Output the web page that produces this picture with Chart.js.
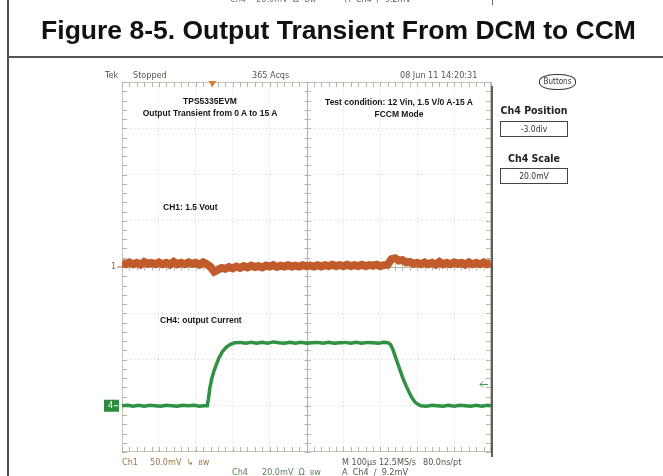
<!DOCTYPE html>
<html>
<head>
<meta charset="utf-8">
<script src="https://cdn.jsdelivr.net/npm/chart.js@4.4.0/dist/chart.umd.min.js"></script>
<style>
  html, body { margin: 0; padding: 0; background: #fff; width: 663px; height: 476px; overflow: hidden; }
  #wrap { position: relative; width: 663px; height: 476px; }
  #scope { position: absolute; left: 0; top: 0; }
  .t { position: absolute; white-space: nowrap; }
  .sc { font-family: "Liberation Sans Narrow", "DejaVu Sans Condensed", sans-serif; font-size: 9px; line-height: 10px; color: #5b5449; }
  .note { font-family: "Liberation Sans", Arial, sans-serif; font-weight: bold; font-size: 8.5px; line-height: 12px; color: #161616; text-align: center; }
  .panel { font-family: "Liberation Sans Narrow", "DejaVu Sans Condensed", sans-serif; font-weight: bold; font-size: 10.5px; color: #222; text-align: center; width: 68px; }
  .box { position: absolute; border: 1px solid #444; width: 66px; height: 14px; font-family: "Liberation Sans Narrow", "DejaVu Sans Condensed", sans-serif; font-size: 8.5px; line-height: 14px; text-align: center; color: #333; }
</style>
</head>
<body>
<div id="wrap">
  <canvas id="scope" width="663" height="476"></canvas>

  <!-- page frame -->
  <div style="position:absolute;left:7px;top:0;width:2px;height:476px;background:#4a4a4a"></div>
  <div style="position:absolute;left:8px;top:56px;width:655px;height:2px;background:#555"></div>
  <div style="position:absolute;left:492px;top:0;width:1px;height:5px;background:#666"></div>

  <!-- cut tail of the previous screenshot -->
  <div class="t sc" style="left:230px;top:-6px;color:#6a7a6a">Ch4&nbsp;&nbsp;&nbsp;&nbsp;20.0mV&nbsp;&nbsp;Ω&nbsp;&nbsp;Bw</div>
  <div class="t sc" style="left:345px;top:-6px">A&nbsp;&nbsp;Ch4&nbsp;&nbsp;∕&nbsp;&nbsp;9.2mV</div>

  <div class="t" style="left:14px;width:649px;top:15px;text-align:center;font-family:'Liberation Sans',Arial,sans-serif;font-weight:bold;font-size:26.5px;line-height:30px;color:#111">Figure 8-5. Output Transient From DCM to CCM</div>

  <!-- scope header -->
  <div class="t sc" style="left:105px;top:70px">Tek</div>
  <div class="t sc" style="left:133px;top:70px">Stopped</div>
  <div class="t sc" style="left:252px;top:70px">365 Acqs</div>
  <div class="t sc" style="left:400px;top:70px">08 Jun 11 14:20:31</div>

  <!-- notes on the screen -->
  <div class="t note" style="left:110px;width:200px;top:95px">TPS5335EVM<br>Output Transient from 0 A to 15 A</div>
  <div class="t note" style="left:299px;width:200px;top:96px">Test condition: 12 Vin, 1.5 V/0 A-15 A<br>FCCM Mode</div>
  <div class="t note" style="left:163px;top:201px;text-align:left">CH1: 1.5 Vout</div>
  <div class="t note" style="left:160px;top:314px;text-align:left">CH4: output Current</div>

  <!-- side panel -->
  <div class="t sc" style="left:539px;top:74px;width:35px;height:14px;line-height:14px;border:1px solid #333;border-radius:45%;text-align:center;font-size:8px;color:#333">Buttons</div>
  <div class="t panel" style="left:500px;top:104px">Ch4 Position</div>
  <div class="box" style="left:500px;top:121px">-3.0div</div>
  <div class="t panel" style="left:500px;top:152px">Ch4 Scale</div>
  <div class="box" style="left:500px;top:168px">20.0mV</div>

  <!-- scope footer -->
  <div class="t sc" style="left:122px;top:457px;color:#9c7445">Ch1</div>
  <div class="t sc" style="left:150px;top:457px;color:#9c7445">50.0mV&nbsp;&nbsp;↳&nbsp;&nbsp;<span style="font-size:7px">B</span>w</div>
  <div class="t sc" style="left:232px;top:467px;color:#5c7f5c">Ch4</div>
  <div class="t sc" style="left:262px;top:467px;color:#5c7f5c">20.0mV&nbsp;&nbsp;Ω&nbsp;&nbsp;<span style="font-size:7px">B</span>w</div>
  <div class="t sc" style="left:342px;top:457px">M 100µs 12.5MS/s</div>
  <div class="t sc" style="left:423px;top:457px">80.0ns/pt</div>
  <div class="t sc" style="left:342px;top:467px">A&nbsp;&nbsp;Ch4&nbsp;&nbsp;∕&nbsp;&nbsp;9.2mV</div>
</div>

<script>
// time base: 100 us/div, 10 div; vertical: 8 div, values in divisions
const timeMin = 0;
const timeMax = 1000;
const divMin = -4;
const divMax = 4;

// Ch1 (1.5 Vout, 50 mV/div), one sample every 10 us
const ch1Step = 10;
const ch1Values = [
    0.09, 0.06, 0.10, 0.06, 0.09, 0.05, 0.11, 0.07, 0.09, 0.06, 0.10, 0.06,
    0.09, 0.05, 0.11, 0.06, 0.09, 0.06, 0.10, 0.07, 0.09, 0.05, 0.10, 0.06,
    0.00, -0.10, -0.06, -0.02, -0.04, 0.00, -0.03,
    0.01, -0.02, 0.02, -0.01, 0.03, 0.00, 0.02, -0.01, 0.03, 0.01, 0.04, 0.00,
    0.03, 0.01, 0.04, 0.01, 0.03, 0.01, 0.04, 0.02, 0.03, 0.01, 0.04, 0.01,
    0.04, 0.02, 0.05, 0.02, 0.04, 0.02, 0.05, 0.02, 0.04, 0.02, 0.05, 0.02,
    0.04, 0.03, 0.05, 0.02, 0.04,
    0.05, 0.17, 0.19, 0.14, 0.15, 0.10, 0.11, 0.07,
    0.09, 0.06, 0.10, 0.06, 0.09, 0.05, 0.11, 0.06, 0.09, 0.06, 0.10, 0.07,
    0.09, 0.05, 0.10, 0.06, 0.09, 0.06, 0.10, 0.06, 0.09
];

// Ch4 (output current, 20 mV/div, position -3 div)
const ch4Times = [
    0, 15, 30, 45, 60, 75, 90, 105, 120, 135, 150, 165, 180, 195, 210, 222,
    231,
    234, 238, 243, 248, 255, 263, 272, 283, 294, 305,
    320, 335, 350, 365, 380, 395, 410, 425, 440, 455, 470, 485, 500, 515,
    530, 545, 560, 575, 590, 605, 620, 635, 650, 665, 680, 695, 710,
    722,
    728, 734, 740, 746, 754, 762, 770, 778, 786, 794, 802, 810,
    825, 840, 855, 870, 885, 900, 915, 930, 945, 960, 975, 990, 1000
];
const ch4Values = [
    -3.00, -2.99, -3.01, -2.99, -3.01, -2.99, -3.00, -3.01, -2.99, -3.00, -3.01, -2.99, -3.00, -2.99, -3.01, -3.00,
    -3.00,
    -2.86, -2.62, -2.42, -2.28, -2.12, -1.96, -1.83, -1.73, -1.67, -1.64,
    -1.63, -1.65, -1.63, -1.65, -1.63, -1.65, -1.62, -1.64, -1.65, -1.63, -1.65, -1.63, -1.65, -1.64,
    -1.63, -1.65, -1.63, -1.65, -1.64, -1.63, -1.65, -1.63, -1.65, -1.63, -1.64, -1.65, -1.63,
    -1.64,
    -1.68, -1.78, -1.92, -2.06, -2.24, -2.42, -2.57, -2.71, -2.83, -2.92, -2.97, -3.00,
    -3.01, -2.99, -3.00, -3.01, -2.99, -3.01, -2.99, -3.00, -3.01, -2.99, -3.01, -2.99, -3.00
];

// markers
const ch1Position = 0;
const ch4Position = -3;
const triggerTime = 245;
const triggerLevel = -2.54;

const ch1Color = '#c25b2b';
const ch4Color = '#2f9142';

const ch1Data = ch1Values.map((v, i) => ({x: i * ch1Step, y: v}));
const ch4Data = ch4Times.map((t, i) => ({x: t, y: ch4Values[i]}));

// frame, center cross and ruler ticks of the scope screen
const scopeGrid = {
    id: 'scopeGrid',
    beforeDatasetsDraw(chart) {
        const {ctx, chartArea: a, scales: {x, y}} = chart;
        ctx.save();
        ctx.lineWidth = 1;
        ctx.strokeStyle = '#c9c2b6';
        ctx.strokeRect(a.left + 0.5, a.top + 0.5, a.width - 1, a.height - 1);

        const cx = Math.round(x.getPixelForValue((timeMin + timeMax) / 2)) + 0.5;
        const cy = Math.round(y.getPixelForValue(0)) + 0.5;
        ctx.strokeStyle = '#b8b1a5';
        ctx.beginPath();
        ctx.moveTo(cx, a.top); ctx.lineTo(cx, a.bottom);
        ctx.moveTo(a.left, cy); ctx.lineTo(a.right, cy);
        for (let t = timeMin; t <= timeMax; t += 20) {
            const px = Math.round(x.getPixelForValue(t)) + 0.5;
            ctx.moveTo(px, a.top); ctx.lineTo(px, a.top + 5);
            ctx.moveTo(px, a.bottom); ctx.lineTo(px, a.bottom - 5);
            ctx.moveTo(px, cy - 3); ctx.lineTo(px, cy + 3);
        }
        for (let k = divMin * 5; k <= divMax * 5; k++) {
            const py = Math.round(y.getPixelForValue(k / 5)) + 0.5;
            ctx.moveTo(a.left, py); ctx.lineTo(a.left + 5, py);
            ctx.moveTo(a.right, py); ctx.lineTo(a.right - 5, py);
            ctx.moveTo(cx - 3, py); ctx.lineTo(cx + 3, py);
        }
        ctx.stroke();

        // dark right edge of the screen
        ctx.strokeStyle = '#2a2a2a';
        ctx.lineWidth = 1.5;
        ctx.beginPath();
        ctx.moveTo(a.right + 1, a.top + 4);
        ctx.lineTo(a.right + 1, a.bottom + 5);
        ctx.stroke();
        ctx.restore();
    }
};

// channel and trigger markers
const scopeMarkers = {
    id: 'scopeMarkers',
    afterDatasetsDraw(chart) {
        const {ctx, chartArea: a, scales: {x, y}} = chart;
        ctx.save();

        // trigger position
        const tx = x.getPixelForValue(triggerTime);
        ctx.fillStyle = '#e07a2c';
        ctx.beginPath();
        ctx.moveTo(tx - 4, a.top - 1);
        ctx.lineTo(tx + 4, a.top - 1);
        ctx.lineTo(tx, a.top + 5);
        ctx.closePath();
        ctx.fill();

        ctx.font = '9px "Liberation Sans Narrow", "DejaVu Sans Condensed", sans-serif';
        ctx.textBaseline = 'middle';

        // ch1 ground marker
        const y1 = y.getPixelForValue(ch1Position);
        ctx.fillStyle = '#a8603a';
        ctx.fillText('1', a.left - 11, y1);
        ctx.strokeStyle = '#a8603a';
        ctx.beginPath();
        ctx.moveTo(a.left - 5, y1); ctx.lineTo(a.left, y1);
        ctx.stroke();

        // ch4 ground marker
        const y4 = y.getPixelForValue(ch4Position);
        ctx.fillStyle = '#2d8a3e';
        ctx.fillRect(a.left - 18, y4 - 6, 15, 12);
        ctx.fillStyle = '#fff';
        ctx.fillText('4', a.left - 14, y4);
        ctx.strokeStyle = '#fff';
        ctx.beginPath();
        ctx.moveTo(a.left - 8, y4); ctx.lineTo(a.left - 4, y4);
        ctx.stroke();

        // trigger level arrow
        const yt = y.getPixelForValue(triggerLevel);
        ctx.strokeStyle = '#3a9a48';
        ctx.lineWidth = 1;
        ctx.beginPath();
        ctx.moveTo(a.right - 3, yt); ctx.lineTo(a.right - 11, yt);
        ctx.moveTo(a.right - 8, yt - 3); ctx.lineTo(a.right - 11, yt); ctx.lineTo(a.right - 8, yt + 3);
        ctx.stroke();
        ctx.restore();
    }
};

new Chart(document.getElementById('scope'), {
    type: 'line',
    data: {
        datasets: [
            {
                label: 'Ch1',
                data: ch1Data,
                borderColor: ch1Color,
                borderWidth: 8,
                borderJoinStyle: 'miter',
                pointRadius: 0,
                tension: 0
            },
            {
                label: 'Ch4',
                data: ch4Data,
                borderColor: ch4Color,
                borderWidth: 3.5,
                borderJoinStyle: 'miter',
                pointRadius: 0,
                tension: 0
            }
        ]
    },
    options: {
        responsive: false,
        animation: false,
        devicePixelRatio: 1,
        layout: {
            padding: {left: 122, top: 82, right: 172, bottom: 24}
        },
        plugins: {
            legend: {display: false},
            tooltip: {enabled: false}
        },
        scales: {
            x: {
                type: 'linear',
                min: timeMin,
                max: timeMax,
                ticks: {display: false, stepSize: 100},
                border: {display: false, dash: [1, 3]},
                grid: {
                    drawTicks: false,
                    color: ctx => (ctx.tick.value === timeMin || ctx.tick.value === timeMax || ctx.tick.value === 500) ? 'rgba(0,0,0,0)' : '#d2d2d2'
                }
            },
            y: {
                type: 'linear',
                min: divMin,
                max: divMax,
                ticks: {display: false, stepSize: 1},
                border: {display: false, dash: [1, 3]},
                grid: {
                    drawTicks: false,
                    color: ctx => (ctx.tick.value === divMin || ctx.tick.value === divMax || ctx.tick.value === 0) ? 'rgba(0,0,0,0)' : '#d2d2d2'
                }
            }
        }
    },
    plugins: [scopeGrid, scopeMarkers]
});
</script>
</body>
</html>
